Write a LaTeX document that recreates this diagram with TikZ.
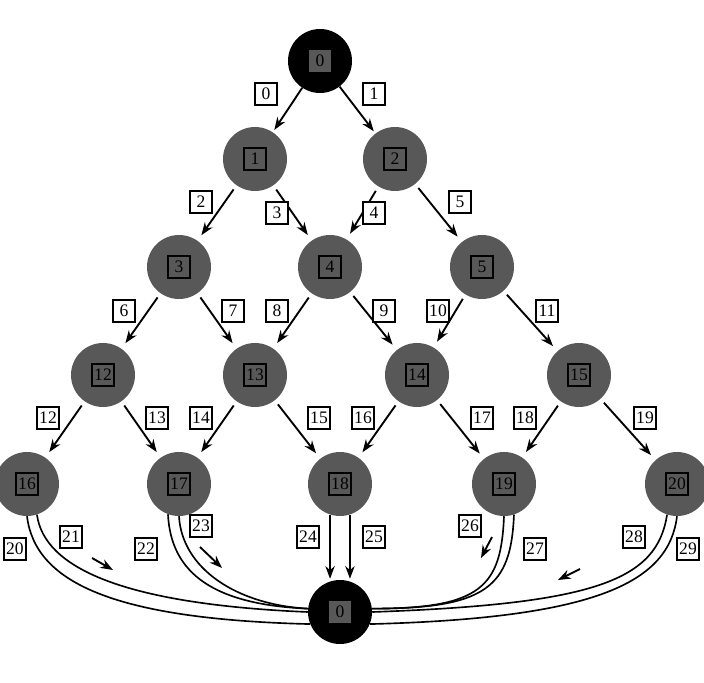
\documentclass[tikz,border=0pt]{standalone}
\usepackage{fontspec}
\setmainfont{Liberation Serif}
\usetikzlibrary{arrows.meta}

\definecolor{nodegray}{RGB}{88,88,88}
\newcommand\numfont{\fontsize{15}{15}\selectfont}

\begin{document}
\begin{tikzpicture}[
    x=0.03cm, y=-0.03cm,
    >={Stealth[length=3.8mm, width=2.8mm]},
    state/.style={circle, fill=nodegray, minimum size=1.92cm, inner sep=0pt,
      label={[idbox, name=n#1b]center:#1}},
    root/.style={circle, fill=black, minimum size=1.92cm, inner sep=0pt,
      label={[rootbox, name=#1b]center:0}},
    idbox/.style={draw, line width=1.3pt, fill=nodegray, minimum size=0.66cm, inner sep=1pt, font=\numfont},
    rootbox/.style={fill=nodegray, minimum size=0.66cm, inner sep=1pt, font=\numfont},
    lbl/.style={draw, fill=white, line width=1.1pt, minimum size=0.66cm, inner sep=1pt, font=\numfont},
    edge/.style={->, line width=1.6pt, shorten <=0.15cm, shorten >=0.2cm},
    back/.style={line width=1.4pt},
    dir/.style={->, line width=1.6pt}
  ]
  \useasboundingbox (0,0) rectangle (704,683);

  % 起点与终点
  \node[root=t0] (t0) at (320,61) {};
  \node[root=b0] (b0) at (340,612) {};

  % 各层节点
  \node[state=1] (n1) at (255,159) {};
  \node[state=2] (n2) at (395,159) {};
  \node[state=3] (n3) at (179,267) {};
  \node[state=4] (n4) at (330,267) {};
  \node[state=5] (n5) at (482,267) {};
  \node[state=12] (n12) at (103,375) {};
  \node[state=13] (n13) at (255,375) {};
  \node[state=14] (n14) at (417,375) {};
  \node[state=15] (n15) at (579,375) {};
  \node[state=16] (n16) at (27,484) {};
  \node[state=17] (n17) at (179,484) {};
  \node[state=18] (n18) at (340,484) {};
  \node[state=19] (n19) at (504,484) {};
  \node[state=20] (n20) at (677,484) {};

  % 树中的箭头
  \draw[edge, shorten <=0pt, shorten >=0.08cm] (t0) -- (n1);
  \draw[edge, shorten <=0pt, shorten >=0.08cm] (t0) -- (n2);
  \draw[edge] (n1) -- (n3);
  \draw[edge] (n1) -- (n4);
  \draw[edge] (n2) -- (n4);
  \draw[edge] (n2) -- (n5);
  \draw[edge] (n3) -- (n12);
  \draw[edge] (n3) -- (n13);
  \draw[edge] (n4) -- (n13);
  \draw[edge] (n4) -- (n14);
  \draw[edge] (n5) -- (n14);
  \draw[edge] (n5) -- (n15);
  \draw[edge] (n12) -- (n16);
  \draw[edge] (n12) -- (n17);
  \draw[edge] (n13) -- (n17);
  \draw[edge] (n13) -- (n18);
  \draw[edge] (n14) -- (n18);
  \draw[edge] (n14) -- (n19);
  \draw[edge] (n15) -- (n19);
  \draw[edge] (n15) -- (n20);

  % 回到终点的曲线
  \draw[back] (n16.south) .. controls +(8,65) and +(-200,-5) .. (b0.-158);
  \draw[back] (n16.-72) .. controls +(7,52) and +(-188,-8) .. (b0.west);
  \draw[back] (n17.-110) .. controls +(3,60) and +(-93,-4) .. (b0.174);
  \draw[back] (n17.south) .. controls +(3,52) and +(-72,-4) .. (b0.174);
  \draw[edge, shorten <=0pt, shorten >=0.03cm] (n18.-108) -- (n18.-108 |- b0.north);
  \draw[edge, shorten <=0pt, shorten >=0.03cm] (n18.-72) -- (n18.-72 |- b0.north);
  \draw[back] (n19.south) .. controls +(-3,70) and +(110,0) .. (b0.6);
  \draw[back] (n19.-72) .. controls +(-3,72) and +(115,0) .. (b0.6);
  \draw[back] (n20.-108) .. controls +(-10,65) and +(225,-8) .. (b0.east);
  \draw[back] (n20.south) .. controls +(-8,65) and +(230,-6) .. (b0.-22);

  % 方向小箭头
  \coordinate (d1s) at (92,558);  \coordinate (d1e) at (113,570);
  \coordinate (d2s) at (200,547); \coordinate (d2e) at (222,568);
  \coordinate (d3s) at (492,537); \coordinate (d3e) at (481,558);
  \coordinate (d4s) at (580,569); \coordinate (d4e) at (558,580);
  \draw[dir] (d1s) -- (d1e);
  \draw[dir] (d2s) -- (d2e);
  \draw[dir] (d3s) -- (d3e);
  \draw[dir] (d4s) -- (d4e);

  % 边的编号
  \node[lbl] (e0) at (266,94) {0};
  \node[lbl] (e1) at (374,94) {1};
  \node[lbl] (e2) at (201,202) {2};
  \node[lbl] (e3) at (277,213) {3};
  \node[lbl] (e4) at (374,213) {4};
  \node[lbl] (e5) at (460,202) {5};
  \node[lbl] (e6) at (124,311) {6};
  \node[lbl] (e7) at (233,311) {7};
  \node[lbl] (e8) at (277,311) {8};
  \node[lbl] (e9) at (384,311) {9};
  \node[lbl] (e10) at (438,311) {10};
  \node[lbl] (e11) at (547,311) {11};
  \node[lbl] (e12) at (48,418) {12};
  \node[lbl] (e13) at (157,418) {13};
  \node[lbl] (e14) at (201,418) {14};
  \node[lbl] (e15) at (319,418) {15};
  \node[lbl] (e16) at (363,418) {16};
  \node[lbl] (e17) at (482,418) {17};
  \node[lbl] (e18) at (525,418) {18};
  \node[lbl] (e19) at (645,418) {19};
  \node[lbl] (e20) at (15,549) {20};
  \node[lbl] (e21) at (71,537) {21};
  \node[lbl] (e22) at (146,549) {22};
  \node[lbl] (e23) at (201,526) {23};
  \node[lbl] (e24) at (308,537) {24};
  \node[lbl] (e25) at (374,537) {25};
  \node[lbl] (e26) at (470,526) {26};
  \node[lbl] (e27) at (535,549) {27};
  \node[lbl] (e28) at (634,537) {28};
  \node[lbl] (e29) at (688,549) {29};

\end{tikzpicture}
\end{document}
